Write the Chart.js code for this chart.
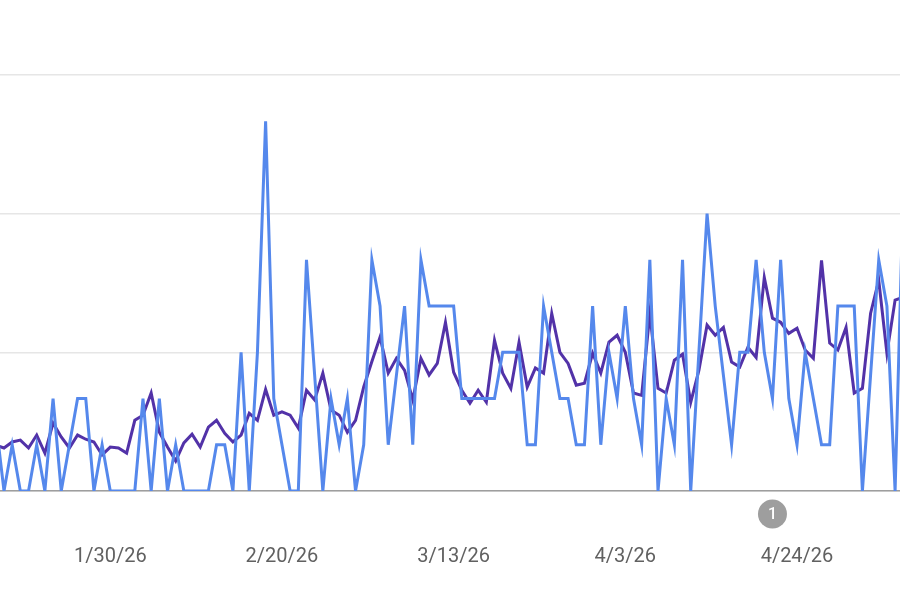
<!DOCTYPE html>
<html>
<head>
<meta charset="utf-8">
<script src="https://cdn.jsdelivr.net/npm/chart.js@4.4.1/dist/chart.umd.min.js"></script>
<style>
  html, body { margin: 0; padding: 0; background: #fff; }
  #wrap { width: 900px; height: 600px; }
</style>
</head>
<body>
<div id="wrap"><canvas id="perfChart"></canvas></div>
<script>
    // day 0 = 1/16/26
    const tickDays = [14, 35, 56, 77, 98];
    const tickLabels = ["1/30/26", "2/20/26", "3/13/26", "4/3/26", "4/24/26"];

    const clicks = [
      1.5, 0, 1, 0, 0, 1, 0, 2, 0, 1, 2, 2, 0, 1,
      0, 0, 0, 0, 2, 0, 2, 0, 1, 0, 0, 0, 0, 1, 1, 0, 3, 0, 3, 8, 2,
      1, 0, 0, 5, 2.5, 0, 2, 1, 2, 0, 1, 5, 4, 1, 2.5, 4, 1, 5, 4, 4,
      4, 4, 2, 2, 2, 2, 2, 3, 3, 3, 1, 1, 4, 3, 2, 2, 1, 1, 4, 1,
      3, 2, 4, 2, 1, 5, 0, 2, 1, 5, 0, 3, 6, 4, 2.5, 1, 3, 3, 5, 3,
      2, 5, 2, 1, 3, 2, 1, 1, 4, 4, 4, 0, 2.5, 5, 4, 0, 6.5
    ];

    const impressions = [
      0.99, 0.93, 1.06, 1.10, 0.93, 1.21, 0.82, 1.47, 1.17, 0.93, 1.21, 1.12, 1.06, 0.78,
      0.95, 0.93, 0.82, 1.53, 1.64, 2.12, 1.27, 0.95, 0.65, 1.04, 1.23, 0.95, 1.38, 1.53,
      1.25, 1.06, 1.21, 1.68, 1.53, 2.20, 1.64, 1.71, 1.64, 1.36, 2.18, 1.97, 2.55, 1.75,
      1.64, 1.27, 1.53, 2.25, 2.80, 3.33, 2.55, 2.87, 2.61, 1.97, 2.87, 2.51, 2.76, 3.65,
      2.57, 2.18, 1.90, 2.18, 1.92, 3.26, 2.55, 2.22, 3.22, 2.25, 2.66, 2.55, 3.84, 3.00,
      2.76, 2.29, 2.33, 2.98, 2.55, 3.22, 3.37, 3.00, 2.12, 2.07, 3.84, 2.22, 2.12, 2.83,
      2.96, 1.92, 2.61, 3.59, 3.37, 3.54, 2.79, 2.68, 3.11, 2.89, 4.62, 3.74, 3.65, 3.41,
      3.52, 3.05, 2.87, 4.99, 3.20, 3.05, 3.54, 2.12, 2.22, 3.84, 4.56, 2.98, 4.13, 4.19
    ];

    const annotations = [{ day: 95, label: "1" }];

    const toPoints = (arr) => arr.map((v, i) => ({ x: i, y: v }));

    const annotationPlugin = {
      id: "annotationMarks",
      afterDraw(chart) {
        const ctx = chart.ctx;
        const xs = chart.scales.x;
        annotations.forEach((a) => {
          const px = xs.getPixelForValue(a.day);
          const py = chart.chartArea.bottom + 23;
          ctx.save();
          ctx.beginPath();
          ctx.arc(px, py, 14.5, 0, Math.PI * 2);
          ctx.fillStyle = "#9e9e9e";
          ctx.fill();
          ctx.fillStyle = "#ffffff";
          ctx.font = "500 16px Roboto";
          ctx.textAlign = "center";
          ctx.textBaseline = "middle";
          ctx.fillText(a.label, px, py + 1);
          ctx.restore();
        });
      },
    };

    const perfCtx = document.getElementById("perfChart").getContext("2d");
    const perfChart = new Chart(perfCtx, {
        type: "line",
    data: {
    datasets: [
    {
        label: "Clicks",
    data: toPoints(clicks),
    borderColor: "#5588ec",
    borderWidth: 3,
    pointRadius: 0,
    tension: 0,
    order: 1,
            },
    {
        label: "Impressions",
    data: toPoints(impressions),
    borderColor: "#5232a8",
    borderWidth: 3,
    pointRadius: 0,
    tension: 0,
    order: 2,
            },
    ],
        },
    options: {
        responsive: true,
    maintainAspectRatio: false,
    animation: false,
    layout: { padding: { top: 75, left: 0, right: 0, bottom: 0 } },
    plugins: {
        legend: { display: false },
    tooltip: { enabled: false },
        },
    scales: {
        x: {
        type: "linear",
    min: 0.51,
    max: 110.6,
    afterBuildTicks: (scale) => {
        scale.ticks = tickDays.map((v) => ({ value: v }));
            },
    afterFit: (scale) => { scale.height = 109; },
    grid: { display: false, drawTicks: false },
    border: { display: true, color: "#9e9e9e", width: 1.5 },
    ticks: {
        padding: 54,
    autoSkip: false,
    maxRotation: 0,
    color: "#616161",
    font: { family: "Roboto", size: 20 },
    callback: (v) => tickLabels[tickDays.indexOf(v)] || "",
            },
          },
    y: {
        min: 0,
    max: 9,
    afterBuildTicks: (scale) => {
        scale.ticks = [0, 3, 6, 9].map((v) => ({ value: v }));
            },
    afterFit: (scale) => { scale.width = 0; },
    grid: { color: "#e6e6e6", lineWidth: 1.5, drawTicks: false },
    border: { display: false },
    ticks: { display: false },
          },
        },
      },
    plugins: [annotationPlugin],
      });
</script>
</body>
</html>
